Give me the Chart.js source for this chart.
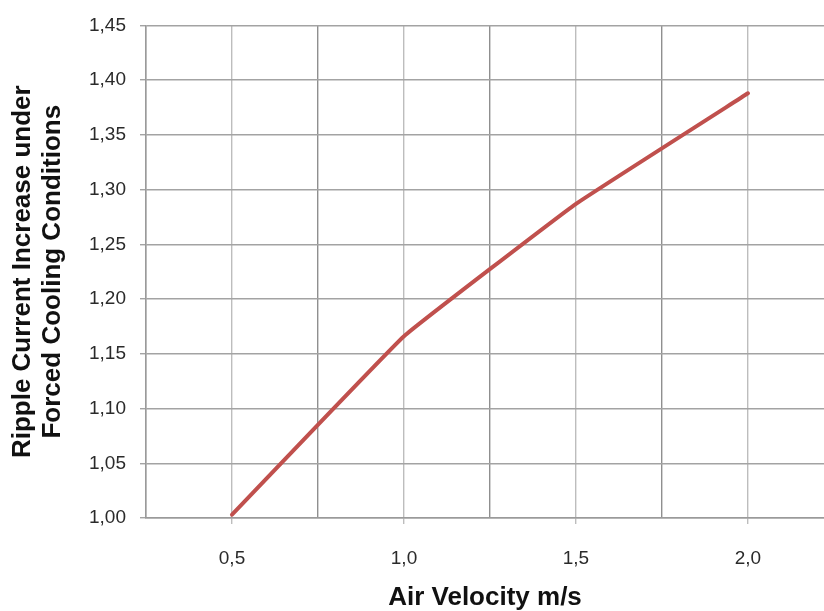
<!DOCTYPE html>
<html>
<head>
<meta charset="utf-8">
<script src="https://cdn.jsdelivr.net/npm/chart.js@4/dist/chart.umd.min.js"></script>
<style>
  html, body { margin: 0; padding: 0; background: #fff; }
  #chart { display: block; }
</style>
</head>
<body>
<canvas id="chart" width="824" height="611"></canvas>
<script>
// Air velocity (m/s) and ripple current multiplier
const airVelocity = [0.5, 1.0, 1.5, 2.0];
const rippleFactor = [1.003, 1.166, 1.287, 1.388];

// Axis ranges (the original plot runs on past the right edge of the picture)
const xMin = 0.25, xMax = 2.221, xStep = 0.25;
const yMin = 1.00, yMax = 1.45, yStep = 0.05;

const isMajor = v => Math.abs(v * 2 - Math.round(v * 2)) < 1e-6 && v > xMin;

const points = airVelocity.map((x, i) => ({ x: x, y: rippleFactor[i] }));

new Chart(document.getElementById('chart'), {
    type: 'line',
    data: {
        datasets: [{
            data: points,
            borderColor: '#C0504D',
            borderWidth: 4,
            pointRadius: 0,
            tension: 0.08,
            borderCapStyle: 'round',
            borderJoinStyle: 'round'
        }]
    },
    options: {
        responsive: false,
        animation: false,
        layout: { padding: { top: 23, right: 0, bottom: 0, left: 0 } },
        plugins: {
            legend: { display: false },
            tooltip: { enabled: false }
        },
        scales: {
            x: {
                type: 'linear',
                min: xMin,
                max: xMax,
                afterFit: scale => {
                    scale.height = 93;
                    scale.paddingLeft = 0;
                    scale.paddingRight = 0;
                },
                ticks: {
                    stepSize: xStep,
                    includeBounds: false,
                    autoSkip: false,
                    maxRotation: 0,
                    padding: 23,
                    color: '#2a2a2a',
                    font: { family: 'Liberation Sans', size: 19 },
                    callback: v => isMajor(v) ? v.toFixed(1).replace('.', ',') : ''
                },
                grid: {
                    color: ctx => isMajor(ctx.tick.value) ? '#bdbdbd' : '#8f8f8f',
                    tickColor: ctx => isMajor(ctx.tick.value) ? '#bdbdbd' : 'rgba(0,0,0,0)',
                    tickLength: 6,
                    lineWidth: 1.4
                },
                border: { color: '#9a9a9a', width: 1.4 },
                title: {
                    display: true,
                    text: 'Air Velocity m/s',
                    color: '#111',
                    padding: { top: 0, bottom: 0 },
                    font: { family: 'Liberation Sans', size: 26, weight: 'bold', lineHeight: 1.04 }
                }
            },
            y: {
                min: yMin,
                max: yMax,
                afterFit: scale => { scale.width = 146; },
                ticks: {
                    stepSize: yStep,
                    padding: 14,
                    color: '#2a2a2a',
                    font: { family: 'Liberation Sans', size: 19 },
                    callback: v => v.toFixed(2).replace('.', ',')
                },
                grid: {
                    color: '#a3a3a3',
                    tickColor: '#a3a3a3',
                    tickLength: 6,
                    lineWidth: 1.4
                },
                border: { color: '#9a9a9a', width: 1.4 },
                title: {
                    display: true,
                    text: ['Ripple Current Increase under', 'Forced Cooling Conditions'],
                    color: '#111',
                    padding: { top: 8, bottom: 0 },
                    font: { family: 'Liberation Sans', size: 26, weight: 'bold', lineHeight: 1.15 }
                }
            }
        }
    }
});
</script>
</body>
</html>
